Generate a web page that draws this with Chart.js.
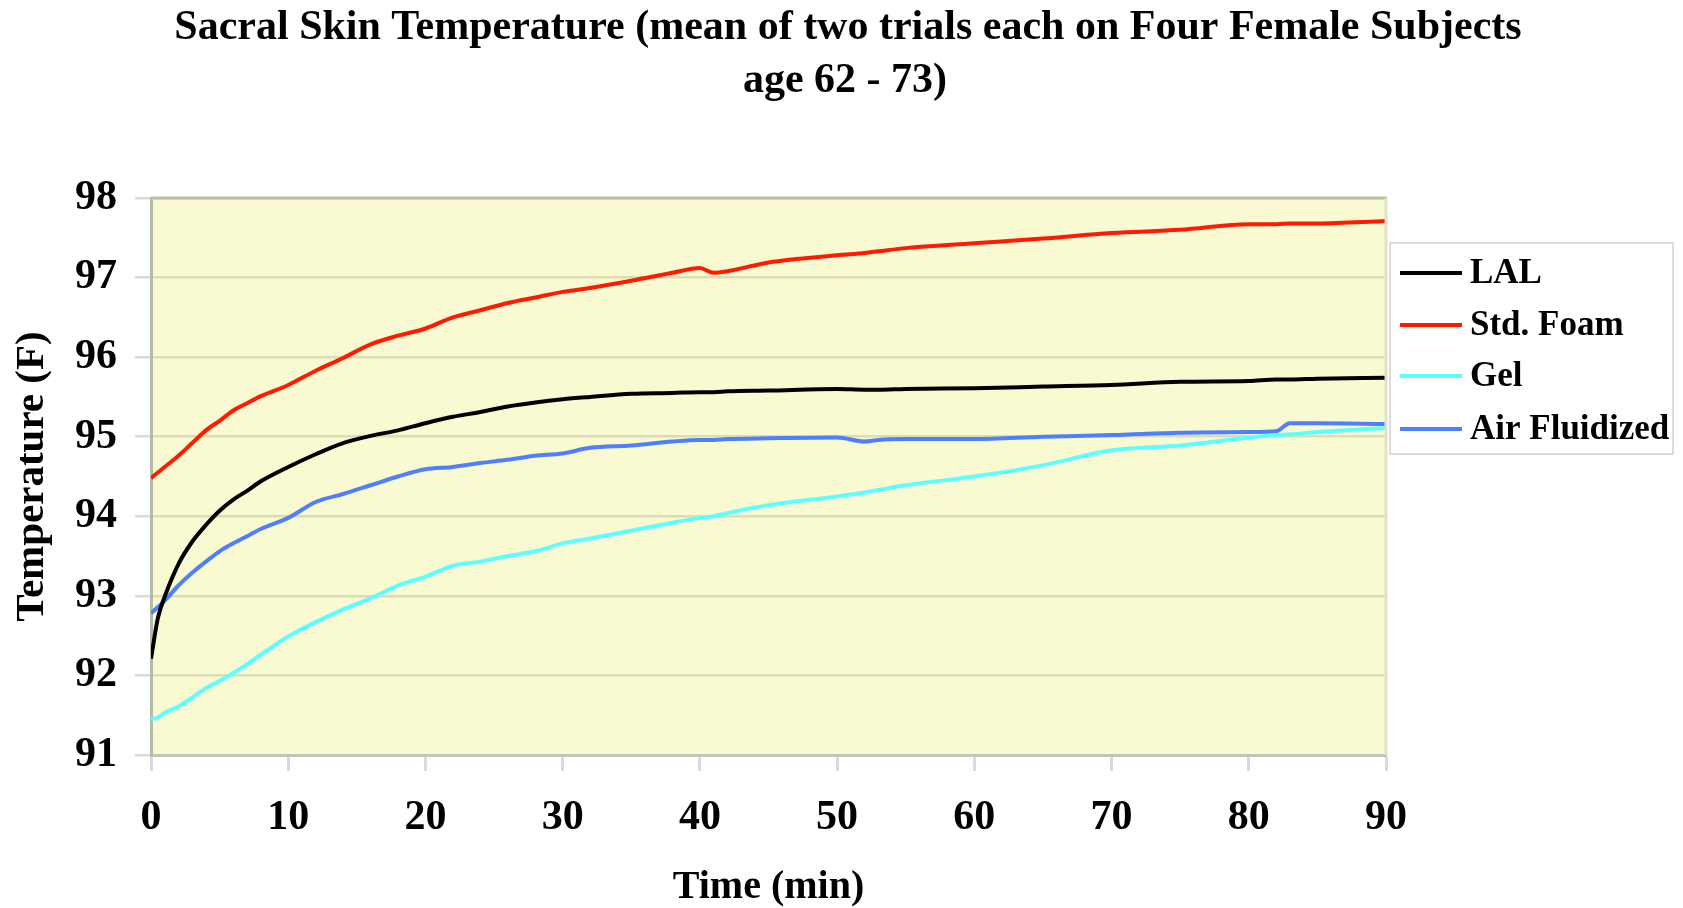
<!DOCTYPE html>
<html>
<head>
<meta charset="utf-8">
<script src="https://cdn.jsdelivr.net/npm/chart.js@4/dist/chart.umd.min.js"></script>
<style>
html,body{margin:0;padding:0;background:#fff;}
#wrap{width:1683px;height:908px;position:relative;}
</style>
</head>
<body>
<div id="wrap"><canvas id="c" width="1683" height="908"></canvas></div>
<script>
const titleLines = ["Sacral Skin Temperature (mean of two trials each on Four Female Subjects", "age 62 - 73)"];
const xTitle = "Time (min)";
const yTitle = "Temperature (F)";
const seriesNames = ["LAL", "Std. Foam", "Gel", "Air Fluidized"];
const seriesColors = ["#000000", "#FF1A00", "#5CFFFF", "#4F7FFF"];

const times = [0, 0.5, 1, 2, 3, 4, 5, 6, 7, 8, 10, 12, 14, 16, 18, 20, 22, 24, 26, 28, 30, 32, 35, 38, 40, 41, 42, 45, 50, 52, 53, 55, 60, 65, 70, 75, 80, 82, 83, 85, 90];

const lal = [92.21, 92.72, 92.99, 93.40, 93.68, 93.89, 94.07, 94.21, 94.32, 94.44, 94.62, 94.78, 94.92, 95.01, 95.08, 95.17, 95.25, 95.31, 95.38, 95.43, 95.47, 95.50, 95.54, 95.55, 95.56, 95.56, 95.57, 95.58, 95.60, 95.59, 95.59, 95.60, 95.61, 95.63, 95.65, 95.69, 95.70, 95.72, 95.72, 95.73, 95.74];
const stdFoam = [94.48, 94.55, 94.62, 94.76, 94.92, 95.08, 95.20, 95.33, 95.42, 95.51, 95.65, 95.83, 95.99, 96.16, 96.27, 96.36, 96.50, 96.59, 96.68, 96.75, 96.82, 96.87, 96.96, 97.06, 97.12, 97.06, 97.08, 97.19, 97.28, 97.31, 97.33, 97.37, 97.43, 97.49, 97.56, 97.60, 97.67, 97.67, 97.68, 97.68, 97.71];
const gel = [91.45, 91.47, 91.53, 91.61, 91.72, 91.84, 91.93, 92.03, 92.14, 92.26, 92.49, 92.67, 92.83, 92.97, 93.13, 93.24, 93.38, 93.43, 93.50, 93.56, 93.66, 93.72, 93.82, 93.92, 93.98, 94.00, 94.04, 94.14, 94.25, 94.30, 94.33, 94.39, 94.50, 94.64, 94.83, 94.89, 94.99, 95.02, 95.03, 95.06, 95.11];
const airFluidized = [92.78, 92.86, 92.94, 93.13, 93.29, 93.43, 93.56, 93.66, 93.75, 93.84, 93.98, 94.18, 94.28, 94.39, 94.50, 94.59, 94.62, 94.67, 94.71, 94.76, 94.79, 94.86, 94.89, 94.94, 94.96, 94.96, 94.97, 94.98, 94.99, 94.94, 94.96, 94.97, 94.97, 95.00, 95.02, 95.05, 95.06, 95.07, 95.17, 95.17, 95.16];

const yMin = 91, yMax = 98, yStep = 1;
const xMin = 0, xMax = 90, xStep = 10;

const FONT = "'Liberation Serif', 'Times New Roman', serif";
const seriesValues = [lal, stdFoam, gel, airFluidized];

function toPoints(vals){ return times.map((t,i)=>({x:t, y:vals[i]})); }

const datasets = seriesNames.map((name,i)=>({
  label: name,
  data: toPoints(seriesValues[i]),
  borderColor: seriesColors[i],
  backgroundColor: seriesColors[i],
  borderWidth: 4,
  pointRadius: 0,
  cubicInterpolationMode: 'monotone',
  fill: false
}));

const plotDeco = {
  id: 'plotDeco',
  beforeDraw(chart){
    const {ctx, chartArea:a} = chart;
    ctx.save();
    ctx.fillStyle = '#FAFAD2';
    ctx.fillRect(a.left, a.top, a.right-a.left, a.bottom-a.top);
    ctx.restore();
  },
  afterDraw(chart){
    const {ctx, chartArea:a} = chart;
    ctx.save();
    // title
    ctx.fillStyle = '#000';
    ctx.font = "bold 42px " + FONT;
    ctx.textAlign = 'center';
    ctx.textBaseline = 'middle';
    ctx.fillText(titleLines[0], 848, 28);
    ctx.fillText(titleLines[1], 845, 81);
    // top border
    ctx.strokeStyle = '#B9BFA9';
    ctx.lineWidth = 3;
    ctx.beginPath(); ctx.moveTo(a.left, a.top); ctx.lineTo(a.right+1, a.top); ctx.stroke();
    // right border
    ctx.strokeStyle = '#E2E2C4';
    ctx.beginPath(); ctx.moveTo(a.right, a.top); ctx.lineTo(a.right, a.bottom); ctx.stroke();
    // legend
    const lx = 1390, ly = 243, lw = 283, lh = 211;
    ctx.fillStyle = '#FFFFFF';
    ctx.fillRect(lx, ly, lw, lh);
    ctx.strokeStyle = '#DCDCDC';
    ctx.lineWidth = 2;
    ctx.strokeRect(lx, ly, lw, lh);
    const rowY = [273, 325, 376, 429];
    chart.data.datasets.forEach((ds, i) => {
      const y = rowY[i];
      ctx.strokeStyle = ds.borderColor;
      ctx.lineWidth = 4;
      ctx.beginPath(); ctx.moveTo(1400, y); ctx.lineTo(1462, y); ctx.stroke();
      ctx.fillStyle = '#000';
      ctx.font = "bold 35px " + FONT;
      ctx.textBaseline = 'middle';
      ctx.textAlign = 'left';
      ctx.fillText(ds.label, 1470, y + 1);
    });
    ctx.restore();
  }
};

new Chart(document.getElementById('c'), {
  type: 'line',
  data: { datasets },
  options: {
    responsive: false,
    animation: false,
    layout: { padding: { left: 0, right: 297, top: 198, bottom: 0 } },
    plugins: {
      legend: { display: false },
      tooltip: { enabled: false },
      title: { display: false }
    },
    scales: {
      x: {
        type: 'linear',
        min: xMin, max: xMax,
        afterFit(scale){ scale.height = 153; },
        ticks: {
          stepSize: xStep,
          color: '#000',
          font: { family: FONT, size: 42, weight: 'bold' },
          padding: 22,
          maxRotation: 0
        },
        grid: {
          drawOnChartArea: false,
          drawTicks: true,
          tickLength: 16,
          tickColor: '#DADADA',
          tickWidth: 3
        },
        border: { display: true, color: '#C2C4C0', width: 3 },
        title: {
          display: true,
          text: xTitle,
          color: '#000',
          font: { family: FONT, size: 40, weight: 'bold', lineHeight: 1.0 },
          padding: { top: 0, bottom: 0 }
        }
      },
      y: {
        type: 'linear',
        min: yMin, max: yMax,
        afterFit(scale){ scale.width = 151; },
        ticks: {
          stepSize: yStep,
          color: '#000',
          font: { family: FONT, size: 42, weight: 'bold' },
          padding: 18
        },
        grid: {
          color: '#DCDCB6',
          lineWidth: 2.5,
          drawTicks: true,
          tickLength: 16,
          tickColor: '#DADADA'
        },
        border: { display: true, color: '#B5BBA5', width: 3 },
        title: {
          display: true,
          text: yTitle,
          color: '#000',
          font: { family: FONT, size: 41, weight: 'bold', lineHeight: 1.0 },
          padding: { top: 12, bottom: 0 }
        }
      }
    }
  },
  plugins: [plotDeco]
});
</script>
</body>
</html>
